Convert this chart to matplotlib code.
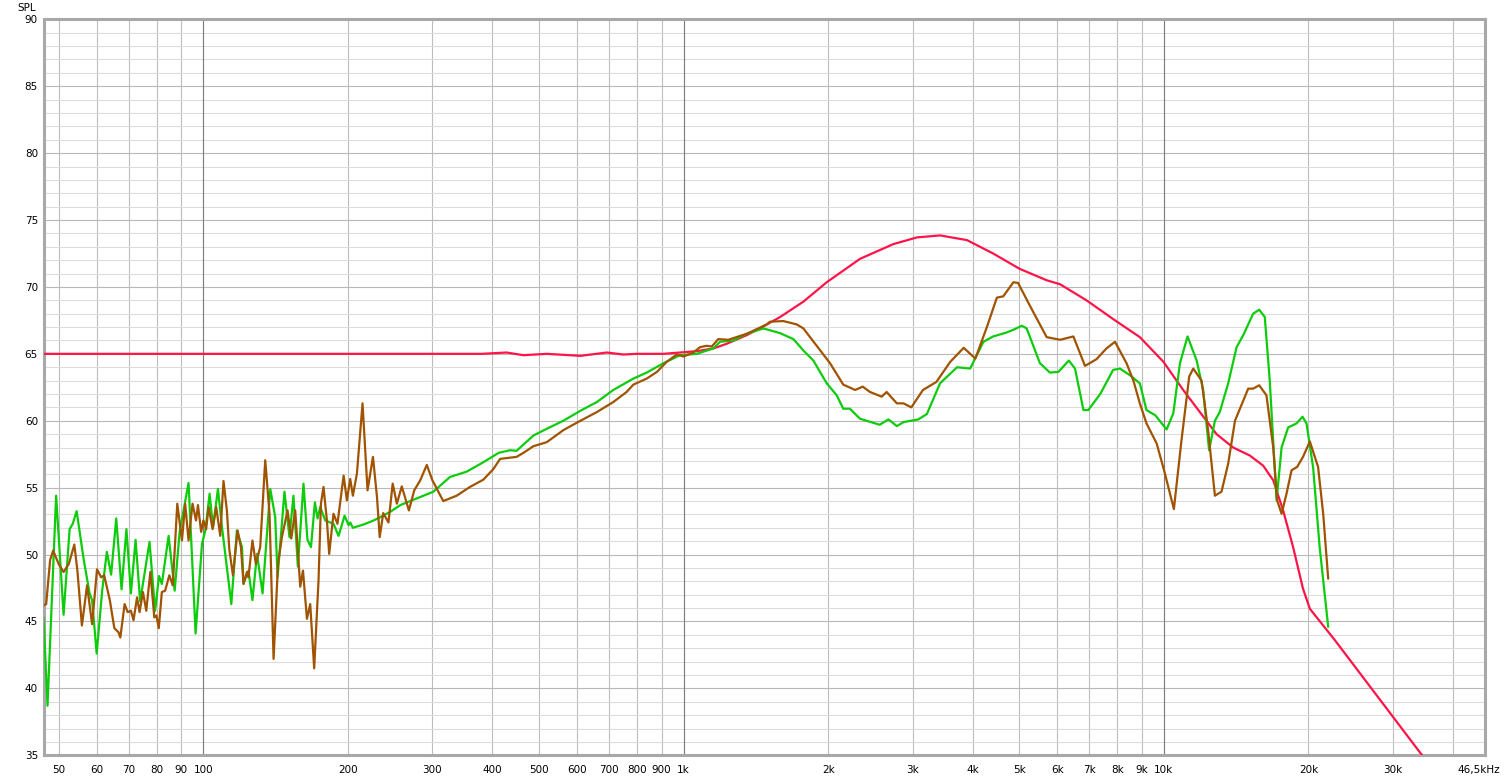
import matplotlib
matplotlib.use("Agg")
import matplotlib.pyplot as plt
from matplotlib.ticker import NullLocator
from matplotlib.transforms import ScaledTranslation

#%% Data
# target curve (red)
red_f = [46.5, 380, 428, 464, 519, 610, 692, 749, 800, 908,
         983, 1065, 1153, 1229, 1354, 1466, 1588, 1776, 1986, 2330,
         2733, 3060, 3420, 3890, 4410, 5010, 5700, 6080, 6900, 7840,
         8910, 9980, 10970, 11880, 12870, 13940, 15100, 16090, 16890, 17710,
         18580, 19480, 20130, 22700, 38000]
red_db = [65.0, 65.0, 65.1, 64.9, 65.0, 64.85, 65.1, 64.95, 65.0, 65.0,
          65.1, 65.2, 65.4, 65.75, 66.4, 67.05, 67.75, 68.9, 70.35, 72.1,
          73.2, 73.7, 73.85, 73.5, 72.5, 71.35, 70.5, 70.2, 69.0, 67.6,
          66.25, 64.4, 62.3, 60.65, 59.0, 58.0, 57.4, 56.65, 55.55, 53.3,
          50.55, 47.45, 45.95, 43.6, 33.0]

# measurement 1 (green)
green_f = [46.5, 47.4, 49.4, 51.2, 52.7, 53.5, 54.5, 56.4, 58.0, 58.7,
           60.0, 61.6, 63.0, 64.3, 65.9, 67.6, 69.2, 70.7, 72.3, 73.9,
           77.3, 79.4, 80.9, 82.0, 84.7, 87.2, 89.3, 93.2, 96.4, 99.4,
           101, 103.1, 104.8, 107.3, 109.4, 114.4, 117.5, 120.4, 121.3, 124.2,
           126.6, 129.4, 132.9, 137.9, 141.2, 142.8, 147.6, 151.2, 154.1, 157.4,
           161.7, 164.8, 167.6, 170.8, 173.0, 175.2, 179.5, 186.7, 191.3, 196.9,
           200.7, 202.3, 204.9, 215.7, 226.4, 233.7, 245.2, 257.3, 278.5, 301.4,
           326.4, 353.7, 383, 412, 435.5, 449, 487, 519, 562, 610,
           660, 714, 786, 838, 908, 983, 1065, 1153, 1191, 1269,
           1354, 1466, 1588, 1693, 1776, 1863, 1986, 2084, 2150, 2220,
           2330, 2560, 2670, 2780, 2870, 3080, 3210, 3420, 3710, 3950,
           4210, 4410, 4710, 4860, 5060, 5180, 5520, 5790, 6030, 6340,
           6530, 6800, 6960, 7370, 7840, 8100, 8500, 8910, 9200, 9600,
           10130, 10460, 10800, 11200, 11700, 12070, 12420, 12770, 13070, 13610,
           14170, 14630, 15340, 15790, 16220, 16610, 17160, 17580, 18140, 18880,
           19440, 19810, 20450, 21100, 21980]
green_db = [45.3, 38.7, 54.4, 45.5, 51.9, 52.3, 53.25, 49.6, 47.1, 46.6,
            42.6, 47.3, 50.2, 48.5, 52.7, 47.4, 51.9, 47.1, 51.1, 46.5,
            50.95, 45.8, 48.4, 47.8, 51.4, 47.3, 51.7, 55.35, 44.1, 50.8,
            51.8, 54.55, 52.05, 54.9, 52.05, 46.3, 51.8, 50.56, 47.85, 48.8,
            46.6, 50.05, 47.1, 54.9, 52.8, 48.3, 54.7, 51.3, 54.4, 49.1,
            55.3, 51.1, 50.56, 53.9, 52.7, 53.55, 52.55, 52.3, 51.4, 52.9,
            52.2, 52.4, 52.0, 52.25, 52.55, 52.8, 53.2, 53.7, 54.2, 54.7,
            55.8, 56.2, 56.9, 57.6, 57.8, 57.75, 58.9, 59.4, 60.0, 60.75,
            61.4, 62.3, 63.15, 63.6, 64.3, 64.9, 65.0, 65.4, 65.9, 66.0,
            66.5, 66.9, 66.55, 66.1, 65.25, 64.5, 62.8, 61.9, 60.9, 60.9,
            60.15, 59.7, 60.1, 59.6, 59.9, 60.1, 60.5, 62.8, 64.0, 63.9,
            65.9, 66.3, 66.6, 66.8, 67.1, 66.9, 64.3, 63.6, 63.65, 64.5,
            63.9, 60.8, 60.8, 62.0, 63.8, 63.9, 63.4, 62.8, 60.8, 60.4,
            59.35, 60.55, 64.3, 66.3, 64.5, 62.3, 57.8, 60.0, 60.65, 62.8,
            65.5, 66.4, 68.0, 68.3, 67.75, 63.0, 54.05, 58.0, 59.5, 59.8,
            60.3, 59.8, 56.5, 50.55, 44.6]

# measurement 2 (brown)
brown_f = [46.5, 47.1, 48.0, 48.7, 50.0, 51.2, 52.5, 53.9, 54.7, 55.9,
           57.3, 58.7, 60.1, 61.3, 62.2, 63.9, 65.3, 66.6, 67.2, 68.6,
           69.6, 70.7, 71.6, 72.8, 73.7, 74.9, 76.1, 77.6, 79.1, 79.9,
           80.8, 82.0, 83.3, 85.0, 86.4, 88.3, 90.3, 91.7, 93.2, 95.0,
           96.6, 97.5, 99.0, 100.1, 101.4, 102.6, 104.6, 106.4, 108.5, 110.2,
           112.0, 113.3, 115.3, 117.9, 119.8, 121.3, 123.3, 124.2, 126.6, 128.7,
           131.4, 134.6, 137.4, 140.1, 143.1, 145.8, 149.8, 152.5, 155.4, 157.4,
           159.2, 161.3, 164.4, 167.0, 170.2, 173.8, 175.8, 178.0, 180.9, 182.9,
           186.7, 190.3, 196.0, 199.1, 202.3, 204.9, 208.9, 214.6, 219.8, 225.6,
           230.0, 233.0, 237.0, 243, 248, 253, 259, 268, 275, 283,
           292, 300, 316, 337, 359, 383, 402, 415, 449, 464,
           487, 519, 562, 610, 660, 714, 761, 786, 838, 880,
           922, 968, 1000, 1048, 1082, 1117, 1145, 1181, 1239, 1354,
           1490, 1513, 1613, 1720, 1776, 1893, 2018, 2150, 2276, 2360,
           2444, 2585, 2647, 2780, 2870, 2980, 3150, 3360, 3590, 3830,
           4050, 4280, 4490, 4630, 4860, 4970, 5260, 5700, 6080, 6480,
           6850, 7240, 7590, 7910, 8360, 8640, 8910, 9200, 9660, 10050,
           10490, 10880, 11290, 11510, 11980, 12360, 12770, 13180, 13610, 14060,
           14980, 15340, 15790, 16350, 16890, 17210, 17580, 18000, 18440, 18940,
           19480, 20130, 20940, 21460, 21980]
brown_db = [46.2, 46.3, 49.6, 50.3, 49.3, 48.7, 49.3, 50.75, 48.8, 44.7,
            47.7, 44.8, 48.9, 48.3, 48.45, 46.6, 44.5, 44.2, 43.8, 46.3,
            45.7, 45.8, 45.1, 46.8, 45.7, 47.2, 45.8, 48.7, 45.3, 45.45,
            44.5, 47.2, 47.3, 48.45, 47.7, 53.8, 51.05, 53.8, 51.05, 53.8,
            52.55, 53.7, 51.7, 52.55, 51.9, 53.55, 51.9, 53.55, 51.4, 55.5,
            53.3, 50.4, 48.45, 51.8, 50.56, 47.8, 48.7, 48.3, 51.05, 49.3,
            50.56, 57.05, 53.05, 42.2, 49.3, 51.3, 53.3, 51.2, 53.3, 50.3,
            47.6, 48.8, 45.2, 46.3, 41.5, 48.1, 53.8, 55.05, 52.55, 50.05,
            53.05, 52.3, 55.9, 54.05, 55.65, 54.4, 56.05, 61.3, 54.8, 57.3,
            54.3, 51.3, 53.1, 52.4, 55.3, 53.8, 55.1, 53.3, 54.8, 55.55,
            56.7, 55.55, 54.0, 54.4, 55.05, 55.6, 56.4, 57.15, 57.3, 57.6,
            58.1, 58.4, 59.3, 60.0, 60.65, 61.4, 62.15, 62.7, 63.15, 63.65,
            64.4, 64.95, 64.8, 65.1, 65.5, 65.6, 65.55, 66.1, 66.05, 66.5,
            67.2, 67.4, 67.45, 67.2, 66.9, 65.6, 64.3, 62.7, 62.3, 62.55,
            62.15, 61.8, 62.15, 61.3, 61.3, 61.0, 62.3, 62.9, 64.4, 65.45,
            64.65, 67.0, 69.2, 69.3, 70.35, 70.3, 68.6, 66.25, 66.05, 66.3,
            64.1, 64.6, 65.4, 65.9, 64.3, 63.0, 61.3, 59.8, 58.3, 56.05,
            53.4, 58.55, 63.3, 63.9, 63.0, 59.3, 54.4, 54.7, 56.8, 60.0,
            62.4, 62.4, 62.65, 61.9, 58.0, 54.05, 53.05, 54.55, 56.3, 56.55,
            57.3, 58.45, 56.55, 53.05, 48.2]

# Axis ticks
x_ticks = [50, 60, 70, 80, 90, 100, 200, 300, 400, 500, 600, 700, 800, 900,
           1000, 2000, 3000, 4000, 5000, 6000, 7000, 8000, 9000, 10000,
           20000, 30000, 40000, 46500]
x_labels = ['50', '60', '70', '80', '90', '100', '200', '300', '400', '500',
            '600', '700', '800', '900', '1k', '2k', '3k', '4k', '5k', '6k',
            '7k', '8k', '9k', '10k', '20k', '30k', '', '46,5kHz']
decades = [100, 1000, 10000]
y_ticks = list(range(35, 91, 5))

#%% Plotting
plt.rcParams['font.family'] = ['DejaVu Sans']

fig = plt.figure(figsize=(15.07, 7.82), dpi=100)
ax = fig.add_axes([0.02887, 0.03414, 0.95620, 0.94118])
ax.set_xscale('log')
ax.set_xlim(46.5, 46500)
ax.set_ylim(35, 90)

ax.set_xticks(x_ticks)
ax.set_xticklabels(x_labels)
ax.xaxis.set_minor_locator(NullLocator())
ax.set_yticks(y_ticks)
ax.set_yticks(range(35, 91), minor=True)
ax.tick_params(which='both', length=0, labelsize=7.5, colors='#000000')
ax.tick_params(axis='x', pad=7)
ax.tick_params(axis='y', pad=4)

ax.set_axisbelow(True)
ax.grid(which='minor', axis='y', color='#dcdcdc', lw=0.8)
ax.grid(which='major', axis='y', color='#b8b8b8', lw=0.8)
ax.grid(which='major', axis='x', color='#bdbdbd', lw=0.8)
for d in decades:
    ax.axvline(d, color='#7c7c7c', lw=0.8, zorder=0.6)

line_kw = dict(lw=1.6, solid_joinstyle='round', solid_capstyle='round')
ax.plot(red_f, red_db, color='#ff1448', zorder=3, **line_kw)
ax.plot(green_f, green_db, color='#0ccc0c', zorder=4, **line_kw)
ax.plot(brown_f, brown_db, color='#a05300', zorder=5, **line_kw)

for s in ax.spines.values():
    s.set_color('#a8a8a8')
    s.set_linewidth(2.2)

# last x label sits a little left of the frame edge
last = ax.get_xticklabels()[-1]
last.set_transform(last.get_transform() + ScaledTranslation(-0.06, 0, fig.dpi_scale_trans))

fig.text(36 / 1507, 1 - 8 / 782, 'SPL', ha='right', va='center', fontsize=7.5)

fig.savefig('out.png', dpi=100, facecolor='white')
